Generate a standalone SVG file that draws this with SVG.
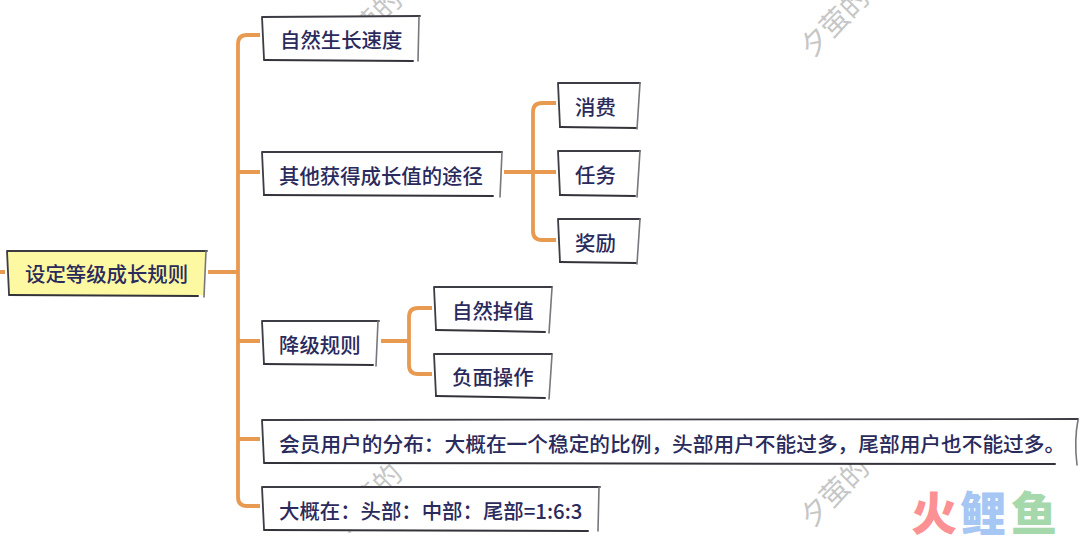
<svg xmlns="http://www.w3.org/2000/svg" width="1080" height="538" viewBox="0 0 1080 538">
<style>
.bg{fill:#fff;stroke:none}
.root{fill:#fdf8a2;stroke:none}
.b{fill:none;stroke:#3c3c44;stroke-width:1.8;stroke-linecap:round}
.bb{fill:none;stroke:#33333a;stroke-width:2;stroke-linecap:round}
.bs{fill:none;stroke:#77777d;stroke-width:1.6;stroke-linecap:round}
.t{font-family:"Noto Sans CJK SC","Noto Sans",sans-serif;font-size:20.4px;font-weight:500;fill:#2a2a5c}
.wide{font-size:20.7px}
.c{fill:none;stroke:#e89a50;stroke-width:3.8;stroke-linecap:butt}
.w{font-family:"Noto Sans CJK SC",sans-serif;font-size:28px;fill:#c6c6c6}
.l{font-family:"Noto Sans CJK SC",sans-serif;font-size:46px;font-weight:900}
</style>
<rect class="bg" width="1080" height="538"/>
<g id="watermarks">
<text class="w" transform="translate(812 59) rotate(-45)">夕萤的</text>
<text class="w" transform="translate(345 61) rotate(-45)">夕萤的</text>
<text class="w" transform="translate(812 529) rotate(-45)">夕萤的</text>
<text class="w" transform="translate(345 535) rotate(-45)">夕萤的</text>
</g>
<g id="connectors">
<path class="c" d="M0 272H5M208 272H238M260 35H247Q238 35 238 44V497Q238 506 247 506H260M238 172H260M238 341H260M238 439H260"/>
<path class="c" d="M504 172H556M556 103H542Q533 103 533 112V231Q533 240 542 240H556"/>
<path class="c" d="M381 341H409M432 308H418Q409 308 409 317V365Q409 374 418 374H432"/>
</g>
<g id="n-root">
<path class="root" d="M7 252L206 251L204 295L9 295Z"/>
<path class="b" d="M7 251L207 251M7 251L9 294"/><path class="bb" d="M9 295L198 296"/><path class="bs" d="M206 251L204 297"/>
<text class="t" x="25" y="282">设定等级成长规则</text>
</g>
<g id="n1">
<rect class="bg" x="263" y="17" width="155" height="43"/>
<path class="b" d="M262 17L420 16M262 17L264 59"/><path class="bb" d="M264 60L413 61"/><path class="bs" d="M419 17L418 61"/>
<text class="t" x="280" y="48">自然生长速度</text>
</g>
<g id="n2">
<rect class="bg" x="263" y="153" width="238" height="43"/>
<path class="b" d="M262 152L502 152M262 152L264 195"/><path class="bb" d="M264 195L493 196"/><path class="bs" d="M502 152L500 197"/>
<text class="t" x="279" y="184">其他获得成长值的途径</text>
</g>
<g id="n3">
<rect class="bg" x="559" y="84" width="80" height="43"/>
<path class="b" d="M558 83L640 83M558 83L560 127"/><path class="bb" d="M560 127L636 128"/><path class="bs" d="M640 83L637 129"/>
<text class="t" x="575" y="115">消费</text>
</g>
<g id="n4">
<rect class="bg" x="559" y="152" width="80" height="43"/>
<path class="b" d="M558 151L640 151M558 151L560 195"/><path class="bb" d="M560 195L635 196"/><path class="bs" d="M640 151L637 197"/>
<text class="t" x="575" y="183">任务</text>
</g>
<g id="n5">
<rect class="bg" x="559" y="220" width="80" height="43"/>
<path class="b" d="M558 219L640 219M558 219L560 262"/><path class="bb" d="M560 262L636 263"/><path class="bs" d="M640 219L637 264"/>
<text class="t" x="575" y="251">奖励</text>
</g>
<g id="n6">
<rect class="bg" x="263" y="322" width="114" height="43"/>
<path class="b" d="M262 321L379 321M262 321L264 364"/><path class="bb" d="M264 364L373 365"/><path class="bs" d="M378 321L376 366"/>
<text class="t" x="279" y="353">降级规则</text>
</g>
<g id="n7">
<rect class="bg" x="435" y="288" width="116" height="43"/>
<path class="b" d="M434 287L552 287M434 287L436 330"/><path class="bb" d="M436 330L545 332"/><path class="bs" d="M552 288L549 333"/>
<text class="t" x="452" y="319">自然掉值</text>
</g>
<g id="n8">
<rect class="bg" x="435" y="355" width="116" height="42"/>
<path class="b" d="M434 354L552 354M434 354L436 396"/><path class="bb" d="M436 396L545 398"/><path class="bs" d="M552 355L549 399"/>
<text class="t" x="452" y="385">负面操作</text>
</g>
<g id="n9">
<rect class="bg" x="263" y="421" width="814" height="42"/>
<path class="b" d="M262 420L1078 419M262 420L264 462"/><path class="bb" d="M264 463L1055 464"/><path class="bs" d="M1078 420Q1074 440 1077 465"/>
<text class="t wide" x="279" y="452">会员用户的分布&#xFF1A;大概在一个稳定的比例&#xFF0C;头部用户不能过多&#xFF0C;尾部用户也不能过多。</text>
</g>
<g id="n10">
<rect class="bg" x="263" y="488" width="335" height="42"/>
<path class="b" d="M262 487L600 487M262 487L264 529"/><path class="bb" d="M264 530L588 531"/><path class="bs" d="M599 487L598 531"/>
<text class="t" x="279" y="519">大概在&#xFF1A;头部&#xFF1A;中部&#xFF1A;尾部=1:6:3</text>
</g>
<g id="logo">
<text class="l" x="911" y="530" fill="#fb9193">火</text>
<text class="l" x="960" y="530" fill="#a6c6f4">鲤</text>
<text class="l" x="1011" y="530" fill="#a5d8ab">鱼</text>
</g>
</svg>
